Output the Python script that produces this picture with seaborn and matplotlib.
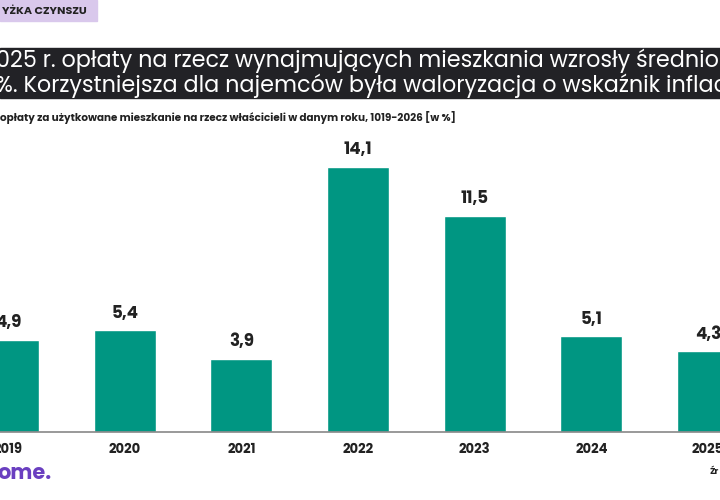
import matplotlib
matplotlib.use("Agg")
import matplotlib.pyplot as plt
import seaborn as sns
import pandas as pd
from matplotlib.patches import Rectangle

years = ["2019", "2020", "2021", "2022", "2023", "2024", "2025"]
values = [4.9, 5.4, 3.9, 14.1, 11.5, 5.1, 4.3]
labels = ["4,9", "5,4", "3,9", "14,1", "11,5", "5,1", "4,3"]

sns.set_theme(style="white")
plt.rcParams['font.family'] = ['Poppins', 'Lato', 'DejaVu Sans']
fig = plt.figure(figsize=(7.2, 5), dpi=100)
ax = fig.add_axes([0, 68/500, 1, 332/500])
df = pd.DataFrame({"year": years, "value": values})
sns.barplot(data=df, x="year", y="value", color="#009682", width=62/116.67, ax=ax, saturation=1)
ax.set_xlim(-8/116.67, 6 + 12/116.67)
ax.set_ylim(0, 332/18.8)
for i, (v, l) in enumerate(zip(values, labels)):
    ax.text(i, v + 0.4, l, ha="center", va="bottom", fontsize=12, fontweight="bold", color="#222222")
for s in ["top", "left", "right"]:
    ax.spines[s].set_visible(False)
ax.spines["bottom"].set_color("#888888")
ax.spines["bottom"].set_linewidth(1.2)
ax.set_yticks([])
ax.set_xlabel(""); ax.set_ylabel("")
ax.tick_params(axis="x", length=0, labelsize=9.5, pad=8)
for t in ax.get_xticklabels():
    t.set_fontweight("bold"); t.set_color("#222222")

fig.patches.append(Rectangle((0, 1-21/500), 97/720, 21/500, transform=fig.transFigure, color="#d9c8ec", zorder=0))
fig.text(0.003, 1-11/500, "YŻKA CZYNSZU", fontsize=8, fontweight="bold", color="#222222", va="center")
fig.patches.append(Rectangle((0, 1-98/500), 1, 50/500, transform=fig.transFigure, color="#222226", zorder=0))
fig.text(-0.005, 1-61/500, "025 r. opłaty na rzecz wynajmujących mieszkania wzrosły średnio",
         fontsize=16, color="white", va="center")
fig.text(-0.005, 1-86/500, "%. Korzystniejsza dla najemców była waloryzacja o wskaźnik inflacji",
         fontsize=16, color="white", va="center")
fig.text(0.0, 1-118/500, "opłaty za użytkowane mieszkanie na rzecz właścicieli w danym roku, 1019-2026 [w %]",
         fontsize=7.5, fontweight="bold", color="#222222", va="center")
fig.text(-0.004, 1-474/500, "ome.", fontsize=15, fontweight="bold", color="#6a3fc0", va="center")
fig.text(0.985, 1-472/500, "Źr", fontsize=6.5, fontweight="bold", color="#222222", va="center")
fig.savefig("out.png", dpi=100)
